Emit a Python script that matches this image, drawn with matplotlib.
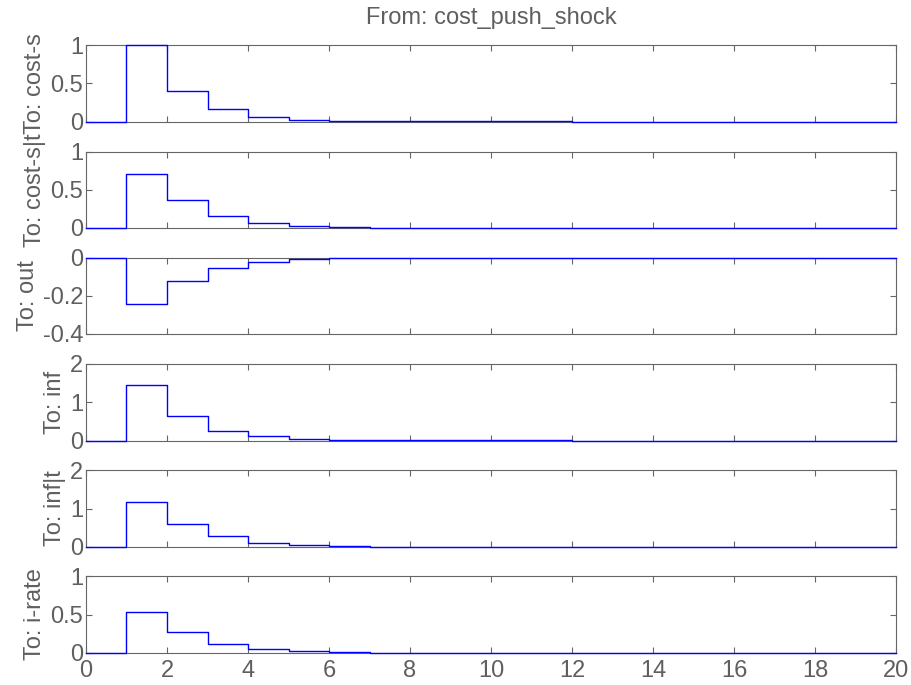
import matplotlib
matplotlib.use("Agg")
import matplotlib.pyplot as plt
import numpy as np

plt.rcParams['font.family'] = ['Liberation Sans', 'DejaVu Sans']

# impulse response of each output to cost_push_shock, sampled at t = 0..20
time = list(range(0, 21))
cost_s = [0, 1.0, 0.40, 0.16, 0.064, 0.026, 0.010, 0.004, 0.0016, 0.0007, 0.0003,
          0.0001, 0, 0, 0, 0, 0, 0, 0, 0, 0]
cost_s_t = [0, 0.70, 0.36, 0.157, 0.068, 0.028, 0.011, 0.0045, 0.0018, 0.0007, 0.0003,
            0.0001, 0, 0, 0, 0, 0, 0, 0, 0, 0]
out = [0, -0.243, -0.124, -0.054, -0.024, -0.010, -0.004, -0.0016, -0.0007, -0.0003,
       -0.0001, 0, 0, 0, 0, 0, 0, 0, 0, 0, 0]
inf = [0, 1.44, 0.63, 0.26, 0.108, 0.044, 0.018, 0.007, 0.003, 0.0012, 0.0005,
       0.0002, 0, 0, 0, 0, 0, 0, 0, 0, 0]
inf_t = [0, 1.16, 0.60, 0.27, 0.112, 0.045, 0.018, 0.007, 0.003, 0.0012, 0.0005,
         0.0002, 0, 0, 0, 0, 0, 0, 0, 0, 0]
i_rate = [0, 0.53, 0.275, 0.118, 0.048, 0.019, 0.008, 0.003, 0.0012, 0.0005, 0.0002,
          0.0001, 0, 0, 0, 0, 0, 0, 0, 0, 0]

series = [cost_s, cost_s_t, out, inf, inf_t, i_rate]
labels = ['To: cost-s', 'To: cost-s|t', 'To: out', 'To: inf', 'To: inf|t', 'To: i-rate']
ylims = [(0, 1), (0, 1), (-0.4, 0), (0, 2), (0, 2), (0, 1)]
yticks = [[0, 0.5, 1], [0, 0.5, 1], [-0.4, -0.2, 0], [0, 1, 2], [0, 1, 2], [0, 0.5, 1]]
ytl = [['0', '0.5', '1'], ['0', '0.5', '1'], ['-0.4', '-0.2', '0'],
       ['0', '1', '2'], ['0', '1', '2'], ['0', '0.5', '1']]
xticks = list(range(0, 21, 2))

W, H = 912, 685
fig = plt.figure(figsize=(W / 100, H / 100), dpi=100)

gray = '#666666'
txt = '#5f5f5f'
fs = 17
tops = [45, 151.5, 257.5, 364, 470.3, 576.3]
h_px = 76.5
left, right = 86, 896

for i, y in enumerate(series):
    ax = fig.add_axes([left / W, 1 - (tops[i] + h_px) / H, (right - left) / W, h_px / H])
    ax.step(time, y, where='post', color='#0000ff', lw=1.0, zorder=3, clip_on=False)
    ax.set_xlim(0, 20)
    ax.set_ylim(*ylims[i])
    ax.set_yticks(yticks[i])
    ax.set_yticklabels(ytl[i])
    ax.set_xticks(xticks)
    ax.tick_params(direction='in', length=4.5, width=0.8, colors=gray,
                   labelcolor=txt, labelsize=fs, top=True, right=True, pad=2)
    ax.tick_params(axis='x', pad=5)
    if i < len(series) - 1:
        ax.set_xticklabels([])
    for s in ax.spines.values():
        s.set_color(gray)
        s.set_linewidth(0.8)
    ax.set_ylabel(labels[i], color=txt, fontsize=fs, labelpad=3)

fig.text((left + right) / 2 / W, 1 - 18 / H, 'From: cost_push_shock', ha='center',
         va='center', color=txt, fontsize=fs)

fig.savefig('out.png', dpi=100)
